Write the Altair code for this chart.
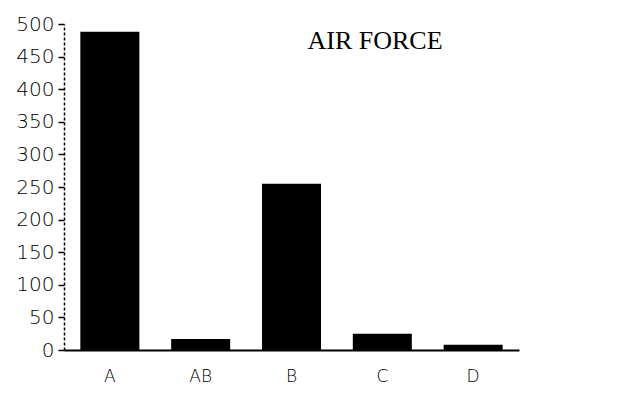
import altair as alt
import pandas as pd

categories = ["A", "AB", "B", "C", "D"]
values = [488, 17, 255, 25, 8]
title_text = "AIR FORCE"

df = pd.DataFrame({"grade": categories, "count": values})

base = alt.Chart(df)

bars = base.mark_bar(color="black").encode(
    x=alt.X("grade:N", sort=categories,
            scale=alt.Scale(paddingInner=0.35, paddingOuter=0.18),
            axis=alt.Axis(title=None, labelAngle=0, ticks=False, labelFont="DejaVu Sans",
                          labelFontSize=17, labelFontWeight=200, labelColor="black",
                          labelPadding=18, domainColor="black", domainWidth=2)),
    y=alt.Y("count:Q", scale=alt.Scale(domain=[0, 500], nice=False),
            axis=alt.Axis(title=None, values=list(range(0, 501, 50)), labelFont="DejaVu Sans",
                          labelFontSize=20, labelFontWeight=200, labelColor="black",
                          labelPadding=4, tickSize=6, tickColor="black", tickWidth=1.5,
                          domainColor="black", domainDash=[3, 2], domainWidth=1.5,
                          grid=False)),
)

title = alt.Chart(pd.DataFrame({"t": [title_text]})).mark_text(
    font="Liberation Serif", fontSize=26, color="black", align="center", baseline="middle"
).encode(text="t:N", x=alt.value(311), y=alt.value(17))

chart = alt.layer(bars, title).properties(
    width=455, height=326,
    background="white",
    autosize=alt.AutoSizeParams(type="none"),
    padding={"left": 56, "top": 16, "right": 117, "bottom": 45},
).configure_view(stroke=None)

chart.save("out.html", embed_options={"renderer": "svg", "actions": False})
